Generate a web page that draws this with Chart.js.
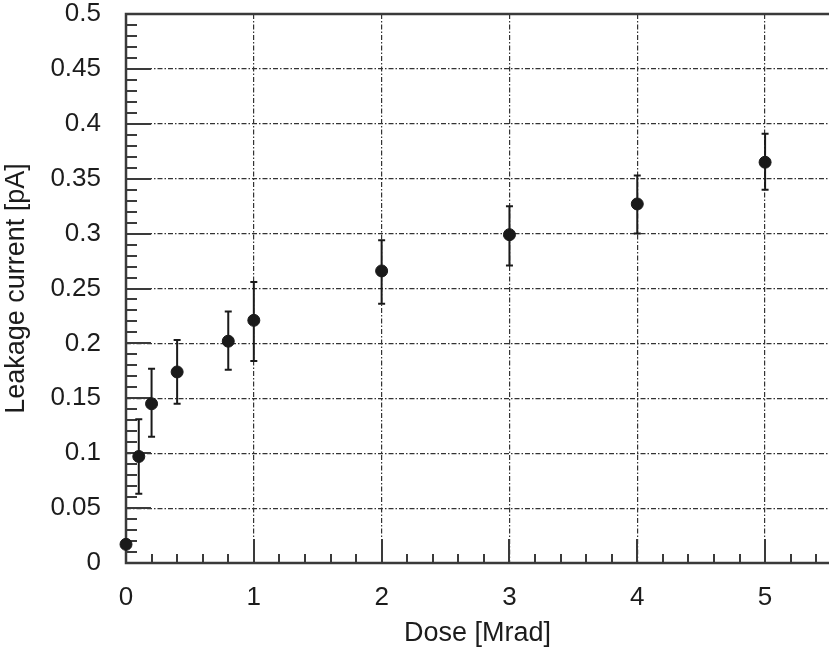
<!DOCTYPE html>
<html>
<head>
<meta charset="utf-8">
<script src="https://cdn.jsdelivr.net/npm/chart.js@4/dist/chart.umd.min.js"></script>
<style>
html, body { margin: 0; padding: 0; background: #fff; overflow: hidden; }
#wrap { width: 836px; height: 652px; position: relative; }
</style>
</head>
<body>
<div id="wrap"><canvas id="c" width="836" height="652"></canvas></div>
<script>
// Data
const dose = [0, 0.1, 0.2, 0.4, 0.8, 1, 2, 3, 4, 5];
const leakage = [0.017, 0.097, 0.145, 0.174, 0.202, 0.221, 0.266, 0.299, 0.327, 0.365];
const errLow = [0.017, 0.063, 0.115, 0.145, 0.176, 0.184, 0.236, 0.271, 0.300, 0.340];
const errHigh = [0.017, 0.131, 0.177, 0.203, 0.229, 0.256, 0.294, 0.325, 0.353, 0.391];
const xTickValues = [0, 1, 2, 3, 4, 5];
const yTickValues = [0, 0.05, 0.1, 0.15, 0.2, 0.25, 0.3, 0.35, 0.4, 0.45, 0.5];
const yTickLabels = ['0', '0.05', '0.1', '0.15', '0.2', '0.25', '0.3', '0.35', '0.4', '0.45', '0.5'];
const xTitle = 'Dose [Mrad]';
const yTitle = 'Leakage current [pA]';

Chart.defaults.font.family = "'Liberation Sans', Arial, Helvetica, sans-serif";
const textColor = '#1c1c1c';
const axisColor = '#3a3a3a';

const errorBarPlugin = {
  id: 'errorBars',
  afterDatasetsDraw(chart) {
    const ctx = chart.ctx;
    const xs = chart.scales.x, ys = chart.scales.y;
    ctx.save();
    ctx.strokeStyle = '#1a1a1a';
    ctx.lineWidth = 2;
    for (let i = 0; i < dose.length; i++) {
      if (errHigh[i] === errLow[i]) continue;
      const px = xs.getPixelForValue(dose[i]);
      const y1 = ys.getPixelForValue(errLow[i]);
      const y2 = ys.getPixelForValue(errHigh[i]);
      ctx.beginPath();
      ctx.moveTo(px, y1); ctx.lineTo(px, y2);
      ctx.moveTo(px - 3.5, y1); ctx.lineTo(px + 3.5, y1);
      ctx.moveTo(px - 3.5, y2); ctx.lineTo(px + 3.5, y2);
      ctx.stroke();
    }
    ctx.restore();
  }
};

const frameTicksPlugin = {
  id: 'frameTicks',
  beforeDatasetsDraw(chart) {
    const ctx = chart.ctx;
    const a = chart.chartArea;
    const xs = chart.scales.x, ys = chart.scales.y;
    ctx.save();
    ctx.strokeStyle = axisColor;
    ctx.lineWidth = 2;
    for (let k = 0; k <= 50; k++) {
      const v = k / 100;
      const py = Math.round(ys.getPixelForValue(v));
      const len = (k % 5 === 0) ? 25 : 11;
      ctx.beginPath();
      ctx.moveTo(a.left, py); ctx.lineTo(a.left + len, py);
      ctx.stroke();
    }
    for (let k = 0; k <= 27; k++) {
      const v = k / 5;
      const px = Math.round(xs.getPixelForValue(v));
      if (px > a.right) break;
      const len = (k % 5 === 0) ? 24 : 9;
      ctx.beginPath();
      ctx.moveTo(px, a.bottom); ctx.lineTo(px, a.bottom - len);
      ctx.stroke();
    }
    ctx.lineWidth = 2.5;
    ctx.beginPath();
    ctx.moveTo(a.right, a.top); ctx.lineTo(a.left, a.top);
    ctx.lineTo(a.left, a.bottom); ctx.lineTo(a.right, a.bottom);
    ctx.stroke();
    ctx.restore();
  }
};

new Chart(document.getElementById('c'), {
  type: 'scatter',
  data: {
    datasets: [{
      label: yTitle,
      data: dose.map((d, i) => ({ x: d, y: leakage[i] })),
      backgroundColor: '#1a1a1a',
      borderColor: '#1a1a1a',
      pointRadius: 6,
      pointHoverRadius: 6,
      clip: false
    }]
  },
  options: {
    responsive: false,
    animation: false,
    events: [],
    layout: { padding: { top: 14, left: 0, right: 0, bottom: 0 } },
    plugins: { legend: { display: false }, tooltip: { enabled: false } },
    scales: {
      x: {
        type: 'linear',
        min: 0, max: 5.5,
        afterBuildTicks: (s) => { s.ticks = xTickValues.map(v => ({ value: v })); },
        afterFit: (s) => { s.height = 89; s.paddingLeft = 0; s.paddingRight = 0; },
        ticks: {
          color: textColor, font: { size: 26 }, padding: 19, maxRotation: 0,
          callback: (v) => String(v)
        },
        grid: {
          drawTicks: false,
          color: (c) => (c.tick && c.tick.value > 0) ? '#333' : 'rgba(0,0,0,0)',
          lineWidth: 1.2
        },
        border: { display: false, dash: [5, 2, 1.5, 2] },
        title: {
          display: true, text: xTitle, color: textColor,
          font: { size: 27 }, padding: { top: 0, bottom: 2 }
        }
      },
      y: {
        type: 'linear',
        min: 0, max: 0.5,
        afterBuildTicks: (s) => { s.ticks = yTickValues.map(v => ({ value: v })); },
        afterFit: (s) => { s.width = 126; s.paddingTop = 0; s.paddingBottom = 0; },
        ticks: {
          color: textColor, font: { size: 26 }, padding: 25,
          callback: (v, i) => yTickLabels[i]
        },
        grid: {
          drawTicks: false,
          color: (c) => (c.tick && c.tick.value > 0 && c.tick.value < 0.5) ? '#333' : 'rgba(0,0,0,0)',
          lineWidth: 1.2
        },
        border: { display: false, dash: [5, 2, 1.5, 2] },
        title: {
          display: true, text: yTitle, color: textColor,
          font: { size: 27 }, padding: { top: 0, bottom: 0 }
        }
      }
    }
  },
  plugins: [frameTicksPlugin, errorBarPlugin]
});
</script>
</body>
</html>
